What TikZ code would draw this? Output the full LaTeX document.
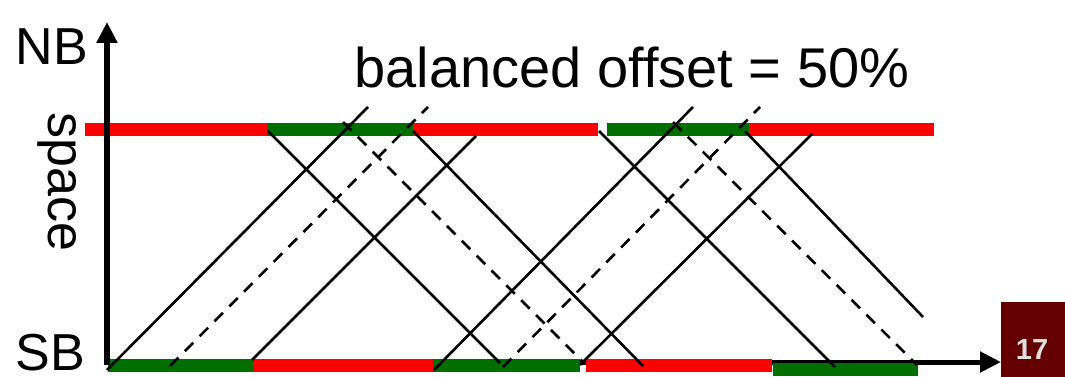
\documentclass[tikz,border=0pt]{standalone}
\usepackage{fontspec}
\setmainfont{Liberation Sans}
\usetikzlibrary{arrows.meta}
\definecolor{slotgreen}{RGB}{0,110,0}
\definecolor{pagered}{RGB}{100,0,0}

\begin{document}
\begin{tikzpicture}[x=1pt, y=-1pt, >={Triangle[length=21pt,width=20pt]},
    redslot/.style={draw=red, line width=13pt},
    greenslot/.style={draw=slotgreen, line width=13pt},
    ray/.style={line width=2.6pt},
    dashray/.style={ray, dash pattern=on 12pt off 9pt},
    label/.style={inner sep=0pt, anchor=base, font=\fontsize{52}{56}\selectfont}]
    \useasboundingbox (0,0) rectangle (1065,377);

    \coordinate (O) at (107,362);

    % time axis, partly hidden by the bottom slots
    \draw[line width=5pt, ->] (O) -- (1001,362);

    % slots at NB
    \draw[redslot]   (85,129.5) -- (267,129.5);
    \draw[greenslot] (267,129.5) -- (413,129.5);
    \draw[redslot]   (413,129.5) -- (598,129.5);
    \draw[greenslot] (607,129.5) -- (749,129.5);
    \draw[redslot]   (749,129.5) -- (934,129.5);

    % slots at SB
    \draw[greenslot] (108,365.5) -- (253,365.5);
    \draw[redslot]   (253,365.5) -- (433,365.5);
    \draw[greenslot] (433,365.5) -- (580,365.5);
    \draw[redslot]   (586,365.5) -- (772,365.5);
    \draw[greenslot] (773,369) -- (918,369);

    % space axis
    \draw[line width=6pt, ->] ([yshift=-3pt]O) -- (107,22);

    % northbound rays
    \draw[ray]     (107,370) -- (368,107);
    \draw[dashray] (170,366) -- (428,107);
    \draw[ray]     (252,360) -- (476,136);
    \draw[ray]     (434,370) -- (693,107);
    \draw[dashray] (503,367) -- (760,107);
    \draw[ray]     (580,365) -- (812,134);

    % southbound rays
    \draw[ray]     (268,131) -- (500,363);
    \draw[dashray] (343,122) -- (583,362);
    \draw[ray]     (413,131) -- (643,366);
    \draw[ray]     (599,131) -- (835,367);
    \draw[dashray] (673,122) -- (917,365);
    \draw[ray]     (745,131) -- (923,317);

    \node[label] (nb) at (52,65) {NB};
    \node[label] (sb) at (50,370) {SB};
    \node[label, rotate=-90] (space) at (48,182) {space};
    \node[label, font=\fontsize{56}{60}\selectfont] (title) at (632,88) {balanced offset = 50\%};

    % page number
    \fill[pagered] (1001,302) rectangle (1065,377);
    \node[inner sep=0pt, anchor=base, text=black!12, font=\bfseries\fontsize{29}{30}\selectfont]
        (page) at (1032,359) {17};
\end{tikzpicture}
\end{document}
